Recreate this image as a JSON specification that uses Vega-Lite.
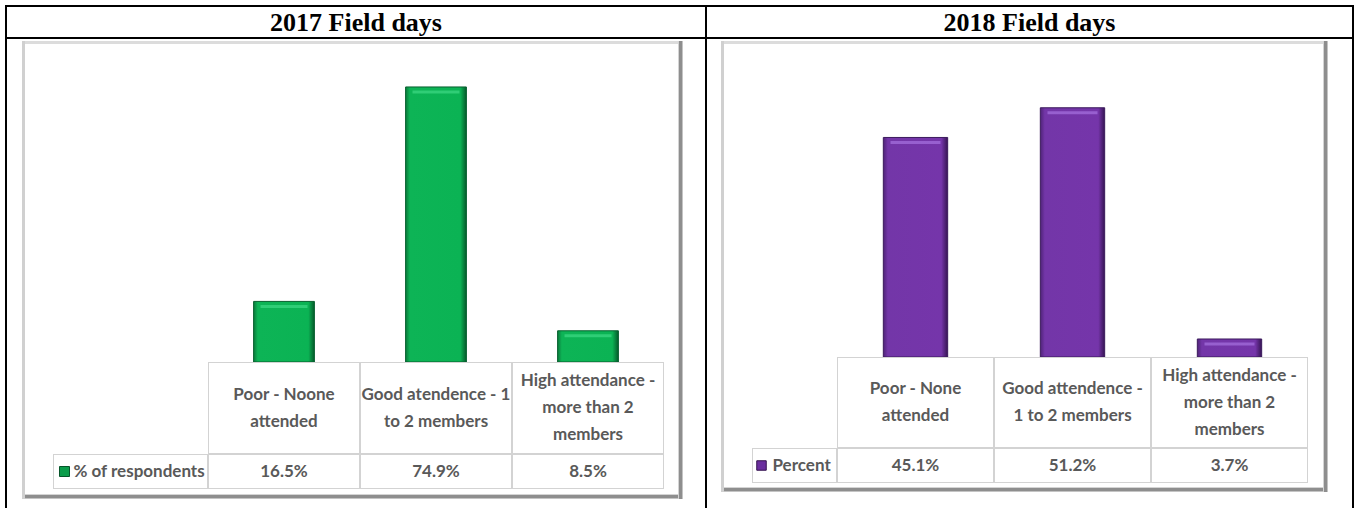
{
  "$schema": "https://vega.github.io/schema/vega-lite/v6.json",
  "padding": {"left": 5, "top": 5, "right": 0, "bottom": 0},
  "background": "white",
  "config": {"view": {"stroke": null}, "concat": {"spacing": 0}, "text": {"font": "Lato"}},
  "datasets": {
    "fd2017": [
      {"cat": "Poor - Noone attended", "lines": ["Poor - Noone", "attended"], "pct": 0.165},
      {"cat": "Good atendence - 1 to 2 members", "lines": ["Good atendence - 1", "to 2 members"], "pct": 0.749},
      {"cat": "High attendance - more than 2 members", "lines": ["High attendance -", "more than 2", "members"], "pct": 0.085}
    ],
    "fd2018": [
      {"cat": "Poor - None attended", "lines": ["Poor - None", "attended"], "pct": 0.451},
      {"cat": "Good attendence - 1 to 2 members", "lines": ["Good attendence -", "1 to 2 members"], "pct": 0.512},
      {"cat": "High attendance - more than 2 members", "lines": ["High attendance -", "more than 2", "members"], "pct": 0.037}
    ]
  },
  "spacing": 0,
  "hconcat": [
    {"width": 2, "height": 503, "data": {"values": []}, "mark": "point", "view": {"fill": "#000000"}},
    {
      "spacing": 0,
      "vconcat": [
        {"width": 698, "height": 2, "data": {"values": []}, "mark": "point", "view": {"fill": "#000000"}},
        {"width": 698, "height": 30, "data": {"values": [{}]},
         "mark": {"type": "text", "text": "2017 Field days", "font": "Liberation Serif", "fontWeight": "bold", "fontSize": 26, "color": "#000000", "dy": 1}},
        {"width": 698, "height": 2, "data": {"values": []}, "mark": "point", "view": {"fill": "#000000"}},
        {
          "spacing": 14,
          "hconcat": [
            {"width": 1, "height": 1, "data": {"values": []}, "mark": "point"},
            {
              "spacing": 1,
              "vconcat": [
                {"width": 1, "height": 1, "data": {"values": []}, "mark": "point"},
                {
                  "spacing": 0,
                  "hconcat": [
                    {"width": 3, "height": 458, "data": {"values": []}, "mark": "point", "view": {"fill": "#d0d0d0"}},
                    {
                      "spacing": 0,
                      "vconcat": [
                        {"width": 653, "height": 3, "data": {"values": []}, "mark": "point", "view": {"fill": "#dcdcdc"}},
                        {
                          "spacing": 0,
                          "vconcat": [
                            {
                              "spacing": 0,
                              "hconcat": [
                                {"width": 183, "height": 1, "data": {"values": []}, "mark": "point"},
                                {
                                  "spacing": 0,
                                  "vconcat": [
                                    {
                                      "width": 456, "height": 318,
                                      "data": {"name": "fd2017"},
                                      "encoding": {"x": {"field": "cat", "type": "nominal", "sort": null, "axis": null, "scale": {"paddingInner": 0, "paddingOuter": 0}}},
                                      "layer": [
                                        {
                                          "mark": {"type": "bar", "clip": true, "width": {"band": 0.4}, "stroke": "#07602f", "strokeWidth": 1,
                                            "fill": {"gradient": "linear", "x1": 0, "x2": 1, "y1": 0, "y2": 0,
                                              "stops": [{"offset": 0, "color": "#0a7a3c"}, {"offset": 0.07, "color": "#0db456"}, {"offset": 0.9, "color": "#0bb354"}, {"offset": 1, "color": "#055a2b"}]}},
                                          "encoding": {"y": {"field": "pct", "type": "quantitative", "axis": null, "scale": {"domain": [0, 0.866]}}}
                                        },
                                        {
                                          "mark": {"type": "tick", "clip": true, "size": 47, "thickness": 3, "color": "#3fd985"},
                                          "encoding": {"y": {"field": "pct", "type": "quantitative", "axis": null, "scale": {"domain": [0, 0.866]}}, "yOffset": {"value": 5}}
                                        }
                                      ]
                                    },
                                    {
                                      "width": 456, "height": 92,
                                      "data": {"name": "fd2017"},
                                      "encoding": {"x": {"field": "cat", "type": "nominal", "sort": null, "axis": null, "scale": {"paddingInner": 0, "paddingOuter": 0}}},
                                      "layer": [
                                        {"mark": {"type": "rect", "clip": true, "filled": false, "color": "#d3d3d3", "strokeWidth": 2}},
                                        {"transform": [{"filter": "length(datum.lines) == 2"}],
                                         "mark": {"type": "text", "clip": true, "lineHeight": 27, "dy": -13.5, "font": "Lato", "fontSize": 17, "fontWeight": "bold", "color": "#595959"},
                                         "encoding": {"text": {"field": "lines"}}},
                                        {"transform": [{"filter": "length(datum.lines) == 3"}],
                                         "mark": {"type": "text", "clip": true, "lineHeight": 27, "dy": -27, "font": "Lato", "fontSize": 17, "fontWeight": "bold", "color": "#595959"},
                                         "encoding": {"text": {"field": "lines"}}}
                                      ]
                                    }
                                  ]
                                },
                                {"width": 14, "height": 1, "data": {"values": []}, "mark": "point"}
                              ]
                            },
                            {
                              "spacing": 0,
                              "hconcat": [
                                {"width": 28, "height": 1, "data": {"values": []}, "mark": "point"},
                                {
                                  "width": 155, "height": 35,
                                  "data": {"values": [{}]},
                                  "layer": [
                                    {"mark": {"type": "rect", "clip": true, "filled": false, "color": "#d3d3d3", "strokeWidth": 2}},
                                    {"mark": {"type": "point", "clip": true, "shape": "square", "filled": true, "size": 100, "color": "#0b9c4a", "stroke": "#06552a", "strokeWidth": 1, "opacity": 1},
                                     "encoding": {"xOffset": {"value": -66}}},
                                    {"mark": {"type": "text", "clip": true, "text": "% of respondents", "align": "left", "dx": -57, "font": "Lato", "fontSize": 17, "fontWeight": "bold", "color": "#595959"}}
                                  ]
                                },
                                {
                                  "width": 456, "height": 35,
                                  "data": {"name": "fd2017"},
                                  "encoding": {"x": {"field": "cat", "type": "nominal", "sort": null, "axis": null, "scale": {"paddingInner": 0, "paddingOuter": 0}}},
                                  "layer": [
                                    {"mark": {"type": "rect", "clip": true, "filled": false, "color": "#d3d3d3", "strokeWidth": 2}},
                                    {"mark": {"type": "text", "clip": true, "font": "Lato", "fontSize": 17, "fontWeight": "bold", "color": "#595959"},
                                     "encoding": {"text": {"field": "pct", "type": "quantitative", "format": ".1%"}}}
                                  ]
                                },
                                {"width": 14, "height": 1, "data": {"values": []}, "mark": "point"}
                              ]
                            },
                            {"width": 1, "height": 5, "data": {"values": []}, "mark": "point"}
                          ]
                        },
                        {"width": 653, "height": 1, "data": {"values": []}, "mark": "point", "view": {"fill": "#d4d4d4"}},
                        {"width": 653, "height": 3, "data": {"values": []}, "mark": "point", "view": {"fill": "#8e8e8e"}},
                        {"width": 653, "height": 1, "data": {"values": []}, "mark": "point", "view": {"fill": "#c4c4c4"}}
                      ]
                    },
                    {"width": 1, "height": 458, "data": {"values": []}, "mark": "point", "view": {"fill": "#d4d4d4"}},
                    {"width": 3, "height": 458, "data": {"values": []}, "mark": "point", "view": {"fill": "#8e8e8e"}},
                    {"width": 1, "height": 458, "data": {"values": []}, "mark": "point", "view": {"fill": "#c4c4c4"}}
                  ]
                }
              ]
            }
          ]
        }
      ]
    },
    {"width": 2, "height": 503, "data": {"values": []}, "mark": "point", "view": {"fill": "#000000"}},
    {
      "spacing": 0,
      "vconcat": [
        {"width": 645, "height": 2, "data": {"values": []}, "mark": "point", "view": {"fill": "#000000"}},
        {"width": 645, "height": 30, "data": {"values": [{}]},
         "mark": {"type": "text", "text": "2018 Field days", "font": "Liberation Serif", "fontWeight": "bold", "fontSize": 26, "color": "#000000", "dy": 1}},
        {"width": 645, "height": 2, "data": {"values": []}, "mark": "point", "view": {"fill": "#000000"}},
        {
          "spacing": 13,
          "hconcat": [
            {"width": 1, "height": 1, "data": {"values": []}, "mark": "point"},
            {
              "spacing": 1,
              "vconcat": [
                {"width": 1, "height": 1, "data": {"values": []}, "mark": "point"},
                {
                  "spacing": 0,
                  "hconcat": [
                    {"width": 3, "height": 451, "data": {"values": []}, "mark": "point", "view": {"fill": "#d0d0d0"}},
                    {
                      "spacing": 0,
                      "vconcat": [
                        {"width": 599, "height": 3, "data": {"values": []}, "mark": "point", "view": {"fill": "#dcdcdc"}},
                        {
                          "spacing": 0,
                          "vconcat": [
                            {
                              "spacing": 0,
                              "hconcat": [
                                {"width": 113, "height": 1, "data": {"values": []}, "mark": "point"},
                                {
                                  "spacing": 0,
                                  "vconcat": [
                                    {
                                      "width": 471, "height": 313,
                                      "data": {"name": "fd2018"},
                                      "encoding": {"x": {"field": "cat", "type": "nominal", "sort": null, "axis": null, "scale": {"paddingInner": 0, "paddingOuter": 0}}},
                                      "layer": [
                                        {
                                          "mark": {"type": "bar", "clip": true, "width": {"band": 0.41}, "stroke": "#3b1a5c", "strokeWidth": 1,
                                            "fill": {"gradient": "linear", "x1": 0, "x2": 1, "y1": 0, "y2": 0,
                                              "stops": [{"offset": 0, "color": "#4f2378"}, {"offset": 0.07, "color": "#7336a8"}, {"offset": 0.9, "color": "#7535aa"}, {"offset": 1, "color": "#361453"}]}},
                                          "encoding": {"y": {"field": "pct", "type": "quantitative", "axis": null, "scale": {"domain": [0, 0.643]}}}
                                        },
                                        {
                                          "mark": {"type": "tick", "clip": true, "size": 50, "thickness": 3, "color": "#a772e0"},
                                          "encoding": {"y": {"field": "pct", "type": "quantitative", "axis": null, "scale": {"domain": [0, 0.643]}}, "yOffset": {"value": 5}}
                                        }
                                      ]
                                    },
                                    {
                                      "width": 471, "height": 91,
                                      "data": {"name": "fd2018"},
                                      "encoding": {"x": {"field": "cat", "type": "nominal", "sort": null, "axis": null, "scale": {"paddingInner": 0, "paddingOuter": 0}}},
                                      "layer": [
                                        {"mark": {"type": "rect", "clip": true, "filled": false, "color": "#d3d3d3", "strokeWidth": 2}},
                                        {"transform": [{"filter": "length(datum.lines) == 2"}],
                                         "mark": {"type": "text", "clip": true, "lineHeight": 27, "dy": -13.5, "font": "Lato", "fontSize": 17, "fontWeight": "bold", "color": "#595959"},
                                         "encoding": {"text": {"field": "lines"}}},
                                        {"transform": [{"filter": "length(datum.lines) == 3"}],
                                         "mark": {"type": "text", "clip": true, "lineHeight": 27, "dy": -27, "font": "Lato", "fontSize": 17, "fontWeight": "bold", "color": "#595959"},
                                         "encoding": {"text": {"field": "lines"}}}
                                      ]
                                    }
                                  ]
                                },
                                {"width": 15, "height": 1, "data": {"values": []}, "mark": "point"}
                              ]
                            },
                            {
                              "spacing": 0,
                              "hconcat": [
                                {"width": 28, "height": 1, "data": {"values": []}, "mark": "point"},
                                {
                                  "width": 85, "height": 35,
                                  "data": {"values": [{}]},
                                  "layer": [
                                    {"mark": {"type": "rect", "clip": true, "filled": false, "color": "#d3d3d3", "strokeWidth": 2}},
                                    {"mark": {"type": "point", "clip": true, "shape": "square", "filled": true, "size": 90, "color": "#6a2e9e", "stroke": "#34124f", "strokeWidth": 1, "opacity": 1},
                                     "encoding": {"xOffset": {"value": -33}}},
                                    {"mark": {"type": "text", "clip": true, "text": "Percent", "align": "left", "dx": -22, "font": "Lato", "fontSize": 17, "fontWeight": "bold", "color": "#595959"}}
                                  ]
                                },
                                {
                                  "width": 471, "height": 35,
                                  "data": {"name": "fd2018"},
                                  "encoding": {"x": {"field": "cat", "type": "nominal", "sort": null, "axis": null, "scale": {"paddingInner": 0, "paddingOuter": 0}}},
                                  "layer": [
                                    {"mark": {"type": "rect", "clip": true, "filled": false, "color": "#d3d3d3", "strokeWidth": 2}},
                                    {"mark": {"type": "text", "clip": true, "font": "Lato", "fontSize": 17, "fontWeight": "bold", "color": "#595959"},
                                     "encoding": {"text": {"field": "pct", "type": "quantitative", "format": ".1%"}}}
                                  ]
                                },
                                {"width": 15, "height": 1, "data": {"values": []}, "mark": "point"}
                              ]
                            },
                            {"width": 1, "height": 4, "data": {"values": []}, "mark": "point"}
                          ]
                        },
                        {"width": 599, "height": 1, "data": {"values": []}, "mark": "point", "view": {"fill": "#d4d4d4"}},
                        {"width": 599, "height": 3, "data": {"values": []}, "mark": "point", "view": {"fill": "#8e8e8e"}},
                        {"width": 599, "height": 1, "data": {"values": []}, "mark": "point", "view": {"fill": "#c4c4c4"}}
                      ]
                    },
                    {"width": 1, "height": 451, "data": {"values": []}, "mark": "point", "view": {"fill": "#d4d4d4"}},
                    {"width": 3, "height": 451, "data": {"values": []}, "mark": "point", "view": {"fill": "#8e8e8e"}},
                    {"width": 1, "height": 451, "data": {"values": []}, "mark": "point", "view": {"fill": "#c4c4c4"}}
                  ]
                }
              ]
            }
          ]
        }
      ]
    },
    {"width": 2, "height": 503, "data": {"values": []}, "mark": "point", "view": {"fill": "#000000"}}
  ]
}
